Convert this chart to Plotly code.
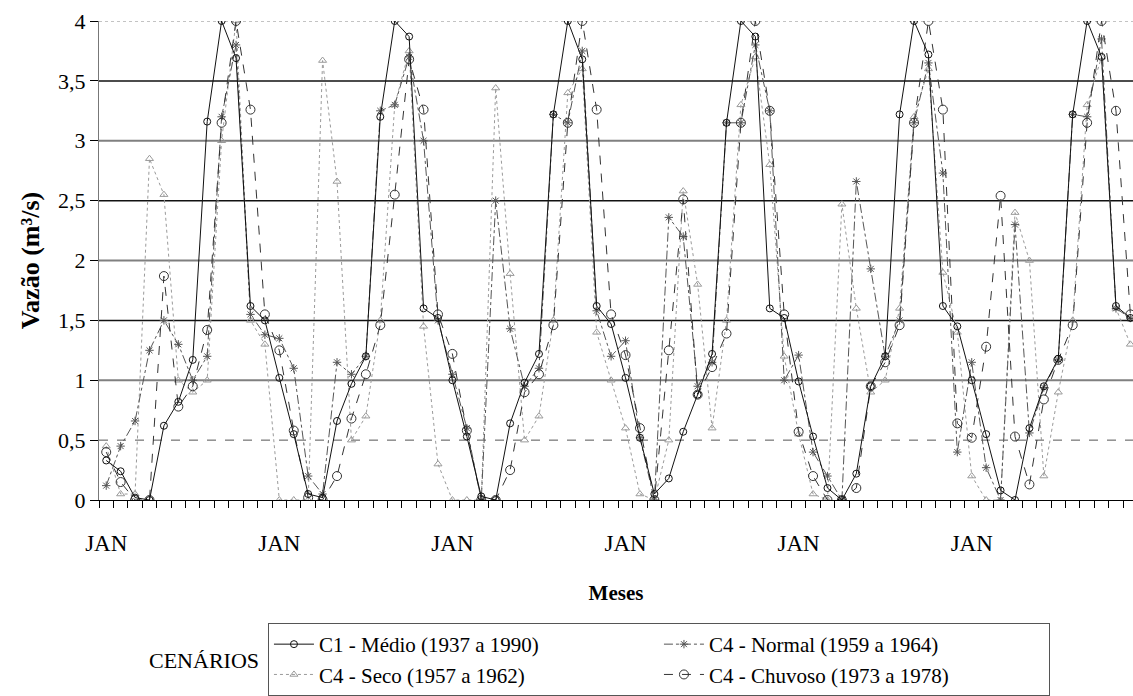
import plotly.graph_objects as go

months = list(range(72))
x_tick_vals = [0, 12, 24, 36, 48, 60]
x_tick_text = ["JAN", "JAN", "JAN", "JAN", "JAN", "JAN"]
y_tick_vals = [0, 0.5, 1, 1.5, 2, 2.5, 3, 3.5, 4]
y_tick_text = ["0", "0,5", "1", "1,5", "2", "2,5", "3", "3,5", "4"]

c1_medio = [
    0.33, 0.24, 0.02, 0.00, 0.62, 0.82, 1.17, 3.16, 4.00, 3.69, 1.62, 1.50,
    1.02, 0.55, 0.05, 0.02, 0.66, 0.97, 1.20, 3.20, 4.00, 3.87, 1.60, 1.52,
    1.00, 0.53, 0.03, 0.00, 0.64, 0.98, 1.22, 3.22, 4.00, 3.68, 1.62, 1.47,
    1.02, 0.52, 0.05, 0.18, 0.57, 0.88, 1.22, 3.15, 4.00, 3.87, 1.60, 1.52,
    0.99, 0.53, 0.10, 0.00, 0.22, 0.95, 1.20, 3.22, 4.00, 3.72, 1.62, 1.45,
    1.00, 0.55, 0.08, 0.00, 0.60, 0.95, 1.18, 3.22, 4.00, 3.70, 1.62, 1.52,
]
c4_normal = [
    0.12, 0.45, 0.66, 1.25, 1.50, 1.30, 1.00, 1.20, 3.20, 3.80, 1.55, 1.38,
    1.35, 1.10, 0.20, 0.05, 1.15, 1.05, 1.20, 3.25, 3.30, 3.70, 3.00, 1.50,
    1.05, 0.60, 0.00, 2.50, 1.43, 0.95, 1.10, 3.22, 3.15, 3.75, 1.58, 1.20,
    1.33, 0.52, 0.00, 2.36, 2.20, 0.95, 1.15, 3.15, 3.15, 3.80, 3.25, 1.00,
    1.21, 0.40, 0.20, 0.00, 2.66, 1.93, 1.20, 1.50, 3.15, 3.65, 2.73, 0.40,
    1.15, 0.27, 0.00, 2.30, 0.56, 0.94, 1.17, 3.22, 3.20, 3.85, 1.60, 1.52,
]
c4_seco = [
    0.45, 0.05, 0.05, 2.85, 2.55, 1.00, 0.90, 1.00, 3.00, 4.00, 1.50, 1.30,
    0.00, 0.00, 0.00, 3.67, 2.66, 0.50, 0.70, 1.50, 3.30, 3.75, 1.45, 0.30,
    0.00, 0.00, 0.00, 3.44, 1.89, 0.50, 0.70, 1.50, 3.40, 3.60, 1.40, 1.00,
    0.60, 0.05, 0.00, 0.50, 2.58, 1.80, 0.60, 1.50, 3.30, 3.70, 2.80, 1.20,
    0.55, 0.05, 0.00, 2.47, 1.60, 0.90, 1.00, 1.60, 3.20, 3.60, 1.90, 1.40,
    0.20, 0.00, 0.00, 2.40, 2.00, 0.20, 0.90, 1.50, 3.30, 3.70, 1.60, 1.30,
]
c4_chuvoso = [
    0.40, 0.15, 0.00, 0.00, 1.87, 0.78, 0.95, 1.42, 3.15, 4.00, 3.26, 1.55,
    1.25, 0.58, 0.02, 0.00, 0.20, 0.68, 1.05, 1.46, 2.55, 3.68, 3.26, 1.55,
    1.22, 0.58, 0.00, 0.00, 0.25, 0.90, 1.05, 1.46, 3.15, 4.00, 3.26, 1.55,
    1.21, 0.60, 0.00, 1.25, 2.51, 0.88, 1.11, 1.39, 3.15, 4.00, 3.25, 1.55,
    0.57, 0.20, 0.00, 0.00, 0.10, 0.95, 1.15, 1.46, 3.15, 4.00, 3.26, 0.64,
    0.52, 1.28, 2.54, 0.53, 0.13, 0.84, 1.17, 1.46, 3.15, 4.00, 3.25, 1.55,
]

FONT = "Liberation Serif"

fig = go.Figure()

# horizontal gridlines (style only, levels follow the y ticks)
grid_styles = {
    0.5: dict(color="#555555", width=1, dash="dash"),
    1.0: dict(color="#808080", width=2, dash="solid"),
    1.5: dict(color="#111111", width=1.5, dash="solid"),
    2.0: dict(color="#808080", width=2, dash="solid"),
    2.5: dict(color="#111111", width=1.5, dash="solid"),
    3.0: dict(color="#808080", width=2, dash="solid"),
    3.5: dict(color="#111111", width=1.5, dash="solid"),
    4.0: dict(color="#888888", width=1, dash="dot"),
}
for gv, st in grid_styles.items():
    fig.add_hline(y=gv, line=st, layer="below")

fig.add_trace(go.Scatter(
    x=months, y=c4_seco, name="C4 - Seco (1957 a 1962)", mode="lines+markers",
    line=dict(color="#9a9a9a", width=1, dash="dot"),
    marker=dict(symbol="triangle-up-open", size=7, color="#9a9a9a", line=dict(width=1)),
    legendrank=3,
))
fig.add_trace(go.Scatter(
    x=months, y=c4_normal, name="C4 - Normal (1959 a 1964)", mode="lines+markers",
    line=dict(color="#555555", width=1, dash="dashdot"),
    marker=dict(symbol="asterisk-open", size=7, color="#555555", line=dict(width=1)),
    legendrank=2,
))
fig.add_trace(go.Scatter(
    x=months, y=c4_chuvoso, name="C4 - Chuvoso (1973 a 1978)", mode="lines+markers",
    line=dict(color="#333333", width=1, dash="dash"),
    marker=dict(symbol="circle-open", size=9, color="#333333", line=dict(width=1)),
    legendrank=4,
))
fig.add_trace(go.Scatter(
    x=months, y=c1_medio, name="C1 - Médio (1937 a 1990)", mode="lines+markers",
    line=dict(color="#111111", width=1),
    marker=dict(symbol="circle-open", size=7, color="#111111", line=dict(width=1)),
    legendrank=1,
))

fig.update_layout(
    width=1133, height=696,
    margin=dict(l=99, r=0, t=21, b=194),
    paper_bgcolor="white", plot_bgcolor="white",
    font=dict(family=FONT, color="black", size=22),
    showlegend=True,
    legend=dict(
        orientation="h", x=0.1634, xanchor="left", y=-0.258, yanchor="top",
        bordercolor="#555555", borderwidth=1, bgcolor="white",
        font=dict(family=FONT, size=21, color="black"),
        itemwidth=40, entrywidth=335, tracegroupgap=0,
    ),
    annotations=[dict(
        text="CENÁRIOS", xref="paper", yref="paper", x=0.046, y=-0.335,
        xanchor="left", yanchor="middle", showarrow=False,
        font=dict(family=FONT, size=22, color="black"),
    )],
)

fig.update_xaxes(
    range=[-0.5, 71.18], showgrid=False, zeroline=False,
    showline=True, linecolor="black", linewidth=1,
    tickvals=x_tick_vals, ticktext=x_tick_text, ticks="",
    ticklabelstandoff=22,
    tickfont=dict(family=FONT, size=23),
    minor=dict(tickvals=[k - 0.5 for k in range(73)], ticks="outside",
               ticklen=7, tickcolor="black", tickwidth=1, showgrid=False),
    title=dict(text="<b>Meses</b>", font=dict(family=FONT, size=21), standoff=30),
)
fig.update_yaxes(
    range=[0, 4], showgrid=False, zeroline=False,
    showline=True, linecolor="#777777", linewidth=1,
    tickvals=y_tick_vals, ticktext=y_tick_text,
    ticks="outside", ticklen=8, tickcolor="black",
    tickfont=dict(family=FONT, size=22),
    title=dict(text="<b>Vazão (m³/s)</b>", font=dict(family=FONT, size=26), standoff=10),
)

fig.write_html("out.html")
